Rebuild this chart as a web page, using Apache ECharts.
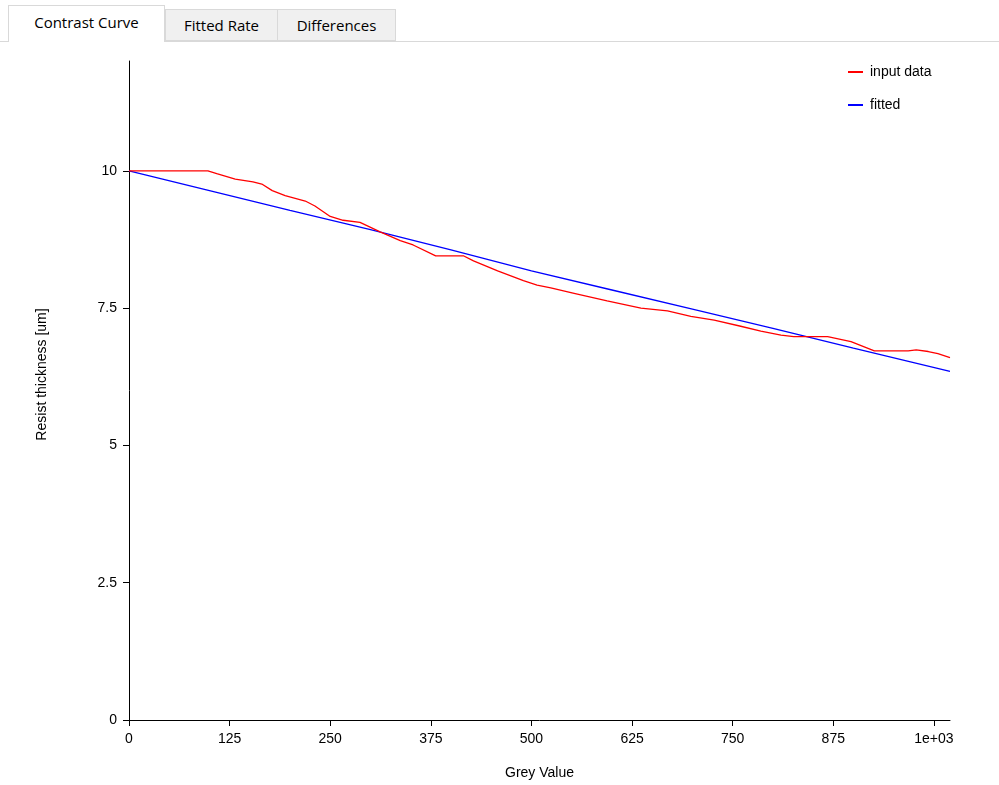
<!DOCTYPE html>
<html>
<head>
<meta charset="utf-8">
<script src="https://cdn.jsdelivr.net/npm/echarts@6/dist/echarts.min.js"></script>
<style>
  html, body { margin: 0; padding: 0; background: #fff; width: 999px; height: 785px; overflow: hidden; }
  #tabs { position: absolute; left: 0; top: 0; width: 999px; height: 42px; }
  #tabline { position: absolute; left: 0; top: 41px; width: 999px; height: 1px; background: #d9d9d9; }
  .tab { position: absolute; box-sizing: border-box; font-family: "Open Sans", "Noto Sans", sans-serif; font-size: 15px; color: #000; text-align: center; }
  .tab.sel { left: 8px; top: 5px; width: 157px; height: 37px; background: #fff; border: 1px solid #d9d9d9; border-bottom: none; line-height: 32px; z-index: 2; }
  .tab.off { top: 9px; height: 32px; background: #f0f0f0; border: 1px solid #d9d9d9; line-height: 30px; }
  #chart { position: absolute; left: 0; top: 0; width: 999px; height: 785px; }
</style>
</head>
<body>
<div id="chart"></div>
<div id="tabs">
  <div id="tabline"></div>
  <div class="tab sel">Contrast Curve</div>
  <div class="tab off" style="left:165px;width:113px;">Fitted Rate</div>
  <div class="tab off" style="left:277px;width:119px;">Differences</div>
</div>
<script>
const inputX = [0, 20, 40, 60, 80, 98, 109, 132, 154, 165, 178, 194, 219, 231, 250, 266, 287, 312, 337, 353, 381, 416, 428, 458, 490, 507, 524, 553, 594, 636, 669, 698, 727, 760, 785, 810, 826, 868, 897, 926, 968, 978, 993, 1005, 1020];
const inputY = [10.0, 10.0, 10.0, 10.0, 10.0, 10.0, 9.95, 9.85, 9.8, 9.76, 9.64, 9.55, 9.45, 9.36, 9.17, 9.1, 9.06, 8.89, 8.73, 8.65, 8.45, 8.45, 8.36, 8.18, 8.0, 7.92, 7.87, 7.77, 7.63, 7.5, 7.45, 7.35, 7.28, 7.17, 7.08, 7.01, 6.98, 6.98, 6.89, 6.72, 6.72, 6.74, 6.71, 6.67, 6.6];
const fittedX = [0, 100, 200, 300, 400, 500, 600, 700, 800, 900, 1020];
const fittedY = [10.0, 9.64, 9.28, 8.93, 8.56, 8.18, 7.83, 7.48, 7.13, 6.77, 6.35];
const seriesNames = ['input data', 'fitted'];
const xTicks = [0, 125, 250, 375, 500, 625, 750, 875, 1000];
const yTicks = [0, 2.5, 5, 7.5, 10];

const chart = echarts.init(document.getElementById('chart'));
const font = 'Liberation Sans, Arial, sans-serif';
chart.setOption({
  animation: false,
  legend: {
    orient: 'vertical', left: 843, top: 60, itemGap: 19, itemWidth: 15, itemHeight: 2, icon: 'rect',
    textStyle: { fontFamily: font, fontSize: 14, color: '#000', padding: [0, 0, 0, 2] },
    data: seriesNames
  },
  grid: { left: 129, right: 49, top: 61, bottom: 58, containLabel: false },
  xAxis: {
    type: 'value', min: 0, max: 1020,
    name: 'Grey Value', nameLocation: 'middle', nameGap: 46,
    nameTextStyle: { fontFamily: font, fontSize: 14, color: '#000' },
    axisLine: { lineStyle: { color: '#000', width: 1 } },
    axisTick: { show: true, length: 6, lineStyle: { color: '#000' }, customValues: xTicks },
    axisLabel: { fontFamily: font, fontSize: 14, color: '#000', margin: 12, customValues: xTicks,
      formatter: v => v === 1000 ? '1e+03' : String(v) },
    splitLine: { show: false }
  },
  yAxis: {
    type: 'value', min: 0, max: 12,
    name: 'Resist thickness [um]', nameLocation: 'middle', nameGap: 80,
    nameTextStyle: { fontFamily: font, fontSize: 14, color: '#000', padding: [0, 0, 0, 32] },
    axisLine: { show: true, lineStyle: { color: '#000', width: 1 } },
    axisTick: { show: true, length: 6, lineStyle: { color: '#000' }, customValues: yTicks },
    axisLabel: { fontFamily: font, fontSize: 14, color: '#000', margin: 12, customValues: yTicks },
    splitLine: { show: false }
  },
  series: [
    { name: seriesNames[0], type: 'line', symbol: 'none', data: inputX.map((x, i) => [x, inputY[i]]),
      lineStyle: { color: '#ff0000', width: 1.3 }, itemStyle: { color: '#ff0000' }, z: 3 },
    { name: seriesNames[1], type: 'line', symbol: 'none', data: fittedX.map((x, i) => [x, fittedY[i]]),
      lineStyle: { color: '#0000ff', width: 1.3 }, itemStyle: { color: '#0000ff' }, z: 2 }
  ]
});
</script>
</body>
</html>
